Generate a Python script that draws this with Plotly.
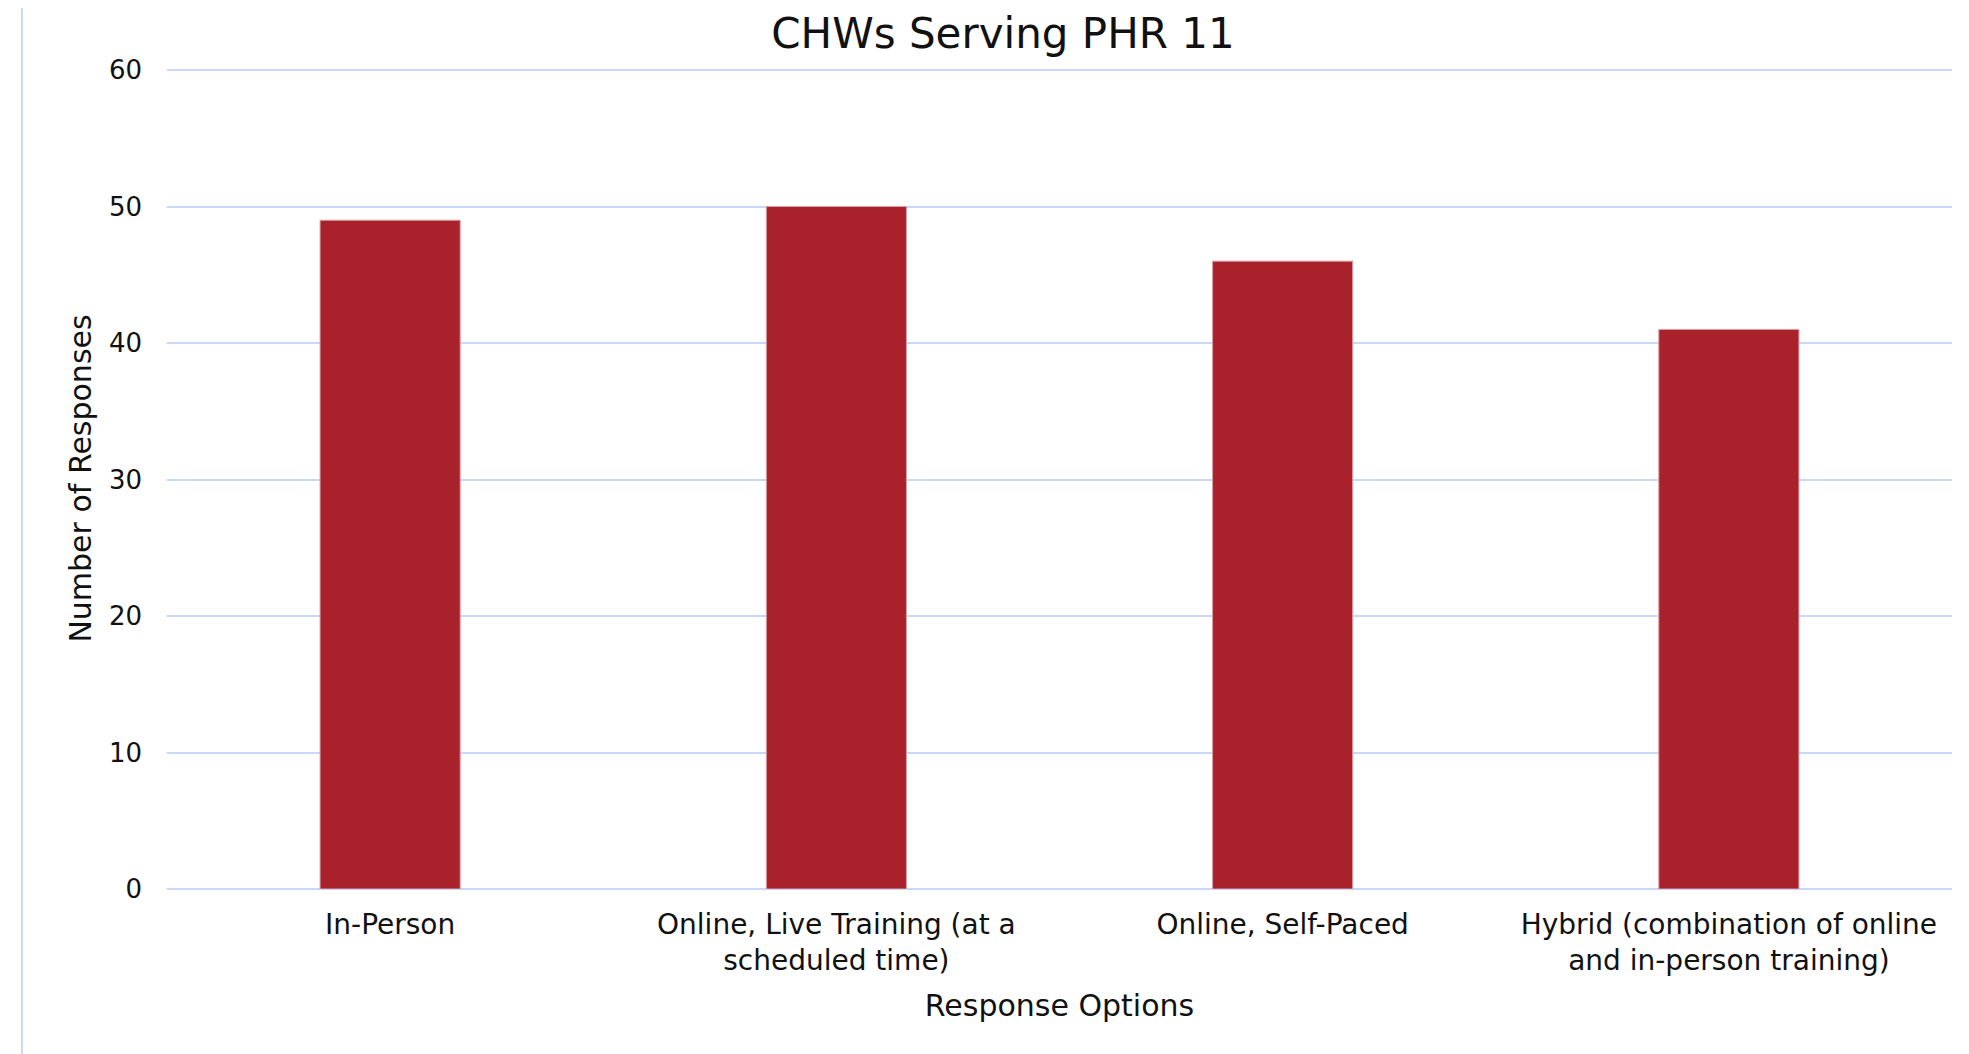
import plotly.graph_objects as go

categories = [
    "In-Person",
    "Online, Live Training (at a<br>scheduled time)",
    "Online, Self-Paced",
    "Hybrid (combination of online<br>and in-person training)",
]
values = [49, 50, 46, 41]
y_ticks = [0, 10, 20, 30, 40, 50, 60]

W, H = 1969, 1054
ml, mr, mt, mb = 159, 25, 60, 173
FONT = "DejaVu Sans"
GRID = "#c9d8f8"

fig = go.Figure(go.Bar(
    x=categories, y=values,
    marker=dict(color="#a9212a", line=dict(color="#d9a0a4", width=1)),
))

pw = W - ml - mr
ph = H - mt - mb
fig.update_layout(
    width=W, height=H,
    margin=dict(l=ml, r=mr, t=mt, b=mb, pad=0),
    paper_bgcolor="white", plot_bgcolor="white",
    bargap=0.686,
    showlegend=False,
    font=dict(family=FONT, color="#111111", size=26),
    title=dict(text="CHWs Serving PHR 11", x=995 / W, xref="container",
               y=1 - 25 / H, yanchor="middle", xanchor="center",
               font=dict(family=FONT, size=42, color="#111111")),
    xaxis=dict(
        showgrid=False, showline=False, zeroline=False,
        tickfont=dict(size=28), ticklabelstandoff=16,
        title=dict(text="Response Options", font=dict(size=30), standoff=18),
    ),
    yaxis=dict(
        range=[0, 60.15], tickvals=y_ticks, showgrid=True, gridcolor=GRID, gridwidth=2,
        zeroline=True, zerolinecolor=GRID, zerolinewidth=2,
        showline=False, tickfont=dict(size=26), ticklabelstandoff=24,
        title=dict(text="Number of Responses", font=dict(size=30), standoff=8),
    ),
    shapes=[
        dict(type="line", xref="paper", yref="paper",
             x0=(14 - ml) / pw, x1=(14 - ml) / pw,
             y0=-mb / ph, y1=1 + mt / ph,
             line=dict(color=GRID, width=2)),
    ],
)

fig.write_html("out.html")
